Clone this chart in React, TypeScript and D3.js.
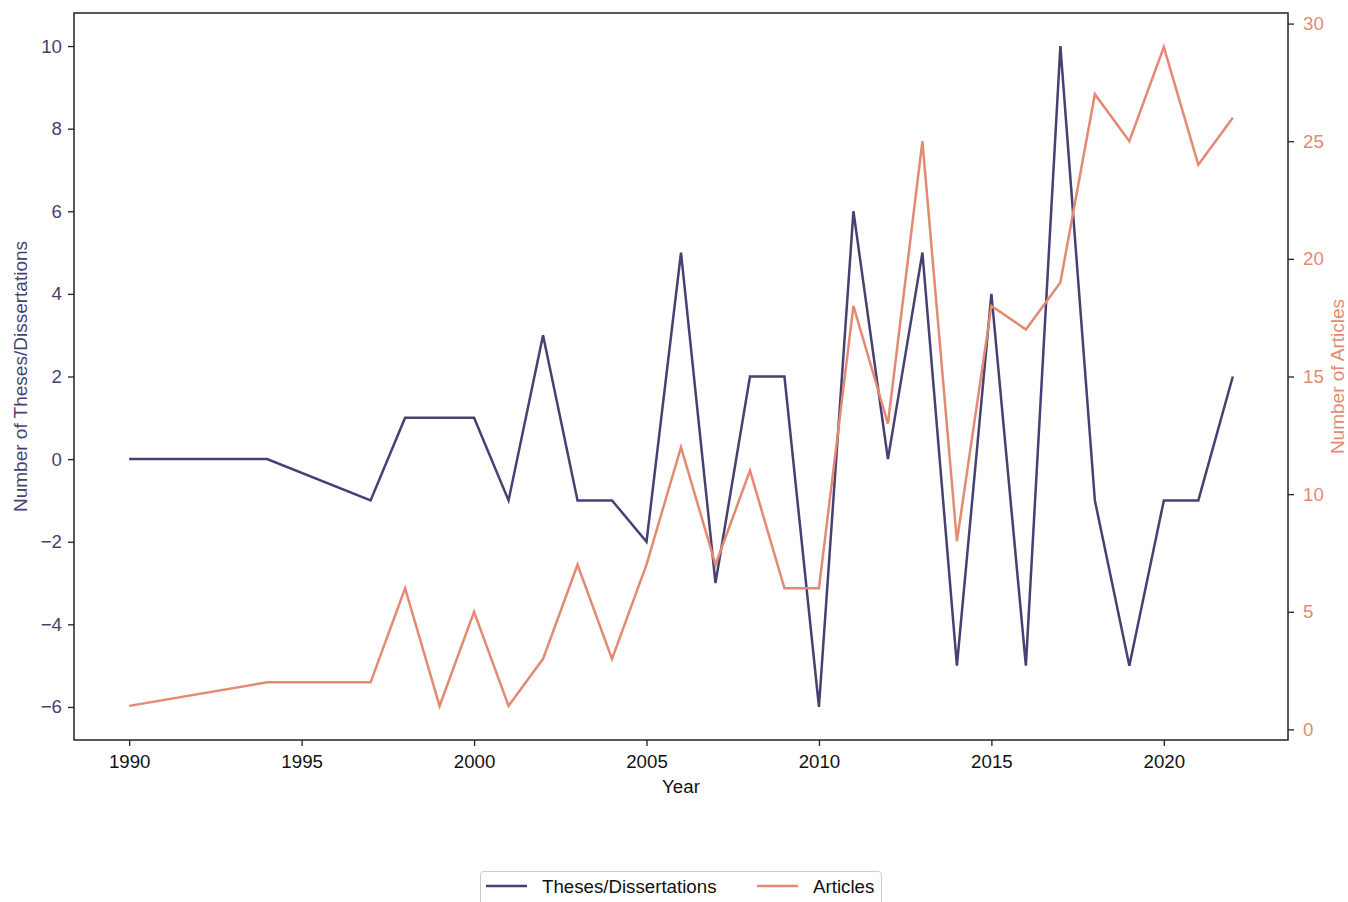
import React, { useRef, useEffect } from "react";
import * as d3 from "d3";

const years = [1990, 1994, 1997, 1998, 1999, 2000, 2001, 2002, 2003, 2004, 2005, 2006, 2007, 2008, 2009, 2010, 2011, 2012, 2013, 2014, 2015, 2016, 2017, 2018, 2019, 2020, 2021, 2022];
const theses = [0, 0, -1, 1, 1, 1, -1, 3, -1, -1, -2, 5, -3, 2, 2, -6, 6, 0, 5, -5, 4, -5, 10, -1, -5, -1, -1, 2];
const articles = [1, 2, 2, 6, 1, 5, 1, 3, 7, 3, 7, 12, 7, 11, 6, 6, 18, 13, 25, 8, 18, 17, 19, 27, 25, 29, 24, 26];
const xTicks = [1990, 1995, 2000, 2005, 2010, 2015, 2020];
const leftTicks = [-6, -4, -2, 0, 2, 4, 6, 8, 10];
const rightTicks = [0, 5, 10, 15, 20, 25, 30];

const PURPLE = "#483f72";
const ORANGE = "#e48a72";
const FONT = "'Liberation Sans', Arial, sans-serif";

export default function App() {
  const ref = useRef<SVGSVGElement>(null);

  useEffect(() => {
    const width = 1348;
    const height = 902;
    const m = { left: 74, right: 1288, top: 13, bottom: 740 };

    const svg = d3.select(ref.current);
    svg.selectAll("*").remove();

    const x = d3.scaleLinear().domain([1988.4, 2023.6]).range([m.left, m.right]);
    const yL = d3.scaleLinear().domain([-6.8, 10.8]).range([m.bottom, m.top]);
    const yR = d3.scaleLinear().domain([-0.45, 30.45]).range([m.bottom, m.top]);

    // lines
    const lineL = d3.line<number>().x((d, i) => x(years[i])).y(d => yL(d));
    const lineR = d3.line<number>().x((d, i) => x(years[i])).y(d => yR(d));

    svg.append("path")
      .datum(theses)
      .attr("d", lineL)
      .attr("fill", "none")
      .attr("stroke", PURPLE)
      .attr("stroke-width", 2.5);

    svg.append("path")
      .datum(articles)
      .attr("d", lineR)
      .attr("fill", "none")
      .attr("stroke", ORANGE)
      .attr("stroke-width", 2.5);

    // frame
    svg.append("rect")
      .attr("x", m.left)
      .attr("y", m.top)
      .attr("width", m.right - m.left)
      .attr("height", m.bottom - m.top)
      .attr("fill", "none")
      .attr("stroke", "#222")
      .attr("stroke-width", 1.5);

    // bottom axis
    const gx = svg.append("g")
      .attr("transform", `translate(0,${m.bottom})`)
      .call(d3.axisBottom(x).tickValues(xTicks).tickFormat(d3.format("d")).tickSize(6).tickPadding(9));
    gx.select(".domain").remove();
    gx.selectAll("line").attr("stroke", "#222").attr("stroke-width", 1.3);
    gx.selectAll("text").style("font-family", FONT).style("font-size", "18.7px").attr("fill", "#111");

    // left axis
    const gl = svg.append("g")
      .attr("transform", `translate(${m.left},0)`)
      .call(d3.axisLeft(yL).tickValues(leftTicks).tickFormat(d => d3.format("d")(d as number).replace("-", "\u2212")).tickSize(6).tickPadding(6));
    gl.select(".domain").remove();
    gl.selectAll("line").attr("stroke", "#222").attr("stroke-width", 1.3);
    gl.selectAll("text").style("font-family", FONT).style("font-size", "18.7px").attr("fill", PURPLE);

    // right axis
    const gr = svg.append("g")
      .attr("transform", `translate(${m.right},0)`)
      .call(d3.axisRight(yR).tickValues(rightTicks).tickSize(6).tickPadding(9));
    gr.select(".domain").remove();
    gr.selectAll("line").attr("stroke", "#222").attr("stroke-width", 1.3);
    gr.selectAll("text").style("font-family", FONT).style("font-size", "18.7px").attr("fill", ORANGE);

    // axis titles
    svg.append("text")
      .attr("x", (m.left + m.right) / 2)
      .attr("y", 793)
      .attr("text-anchor", "middle")
      .style("font-family", FONT)
      .style("font-size", "18.7px")
      .attr("fill", "#111")
      .text("Year");

    svg.append("text")
      .attr("transform", `translate(27,${(m.top + m.bottom) / 2}) rotate(-90)`)
      .attr("text-anchor", "middle")
      .style("font-family", FONT)
      .style("font-size", "19px")
      .attr("fill", PURPLE)
      .text("Number of Theses/Dissertations");

    svg.append("text")
      .attr("transform", `translate(1344,${(m.top + m.bottom) / 2}) rotate(-90)`)
      .attr("text-anchor", "middle")
      .style("font-family", FONT)
      .style("font-size", "19px")
      .attr("fill", ORANGE)
      .text("Number of Articles");

    // legend
    const legend = svg.append("g");
    legend.append("rect")
      .attr("x", 480.5)
      .attr("y", 871.5)
      .attr("width", 401)
      .attr("height", 40)
      .attr("rx", 3)
      .attr("fill", "#fff")
      .attr("stroke", "#ccc")
      .attr("stroke-width", 1);

    const items = [
      { label: "Theses/Dissertations", color: PURPLE, x: 486 },
      { label: "Articles", color: ORANGE, x: 757 },
    ];
    items.forEach(it => {
      legend.append("line")
        .attr("x1", it.x).attr("x2", it.x + 41)
        .attr("y1", 886).attr("y2", 886)
        .attr("stroke", it.color)
        .attr("stroke-width", 2.5);
      legend.append("text")
        .attr("x", it.x + 56)
        .attr("y", 893)
        .style("font-family", FONT)
        .style("font-size", "18.7px")
        .attr("fill", "#111")
        .text(it.label);
    });

    svg.attr("width", width).attr("height", height);
  }, []);

  return (
    <svg
      ref={ref}
      width={1348}
      height={902}
      style={{ position: "absolute", left: 0, top: 0, background: "#fff" }}
    />
  );
}
